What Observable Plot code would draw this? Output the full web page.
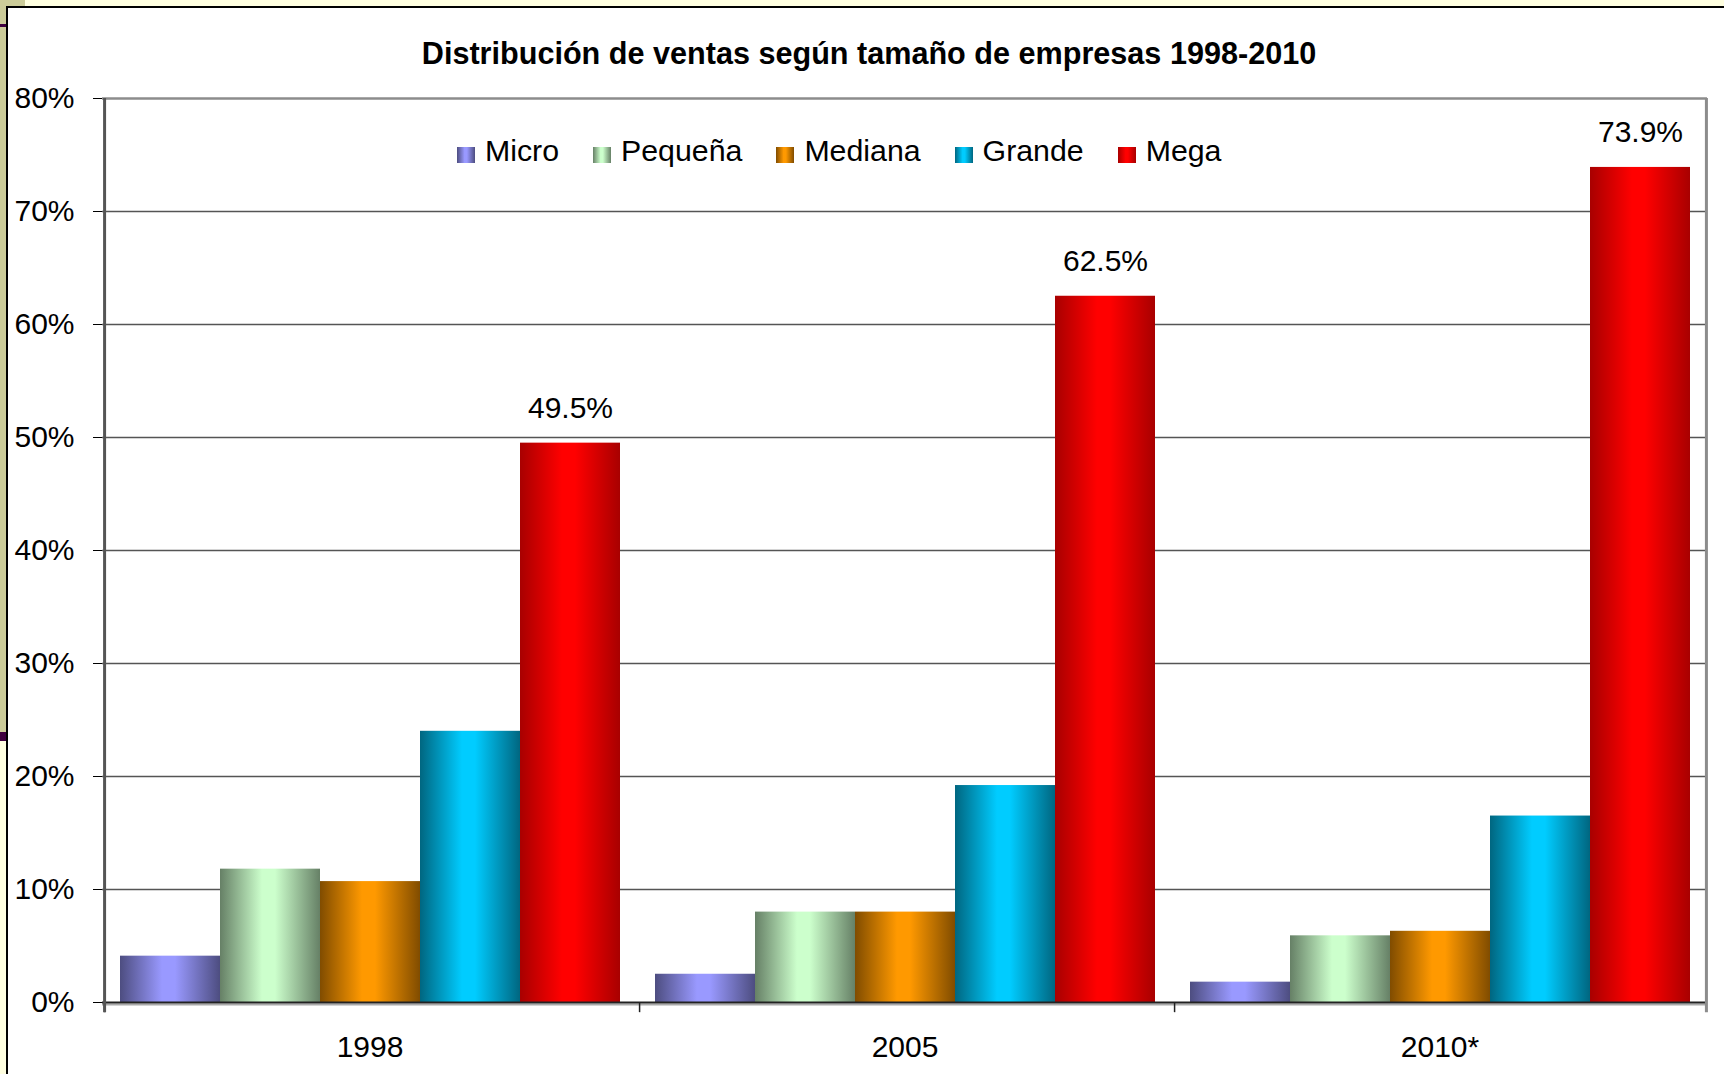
<!DOCTYPE html>
<html>
<head>
<meta charset="utf-8">
<script src="https://cdn.jsdelivr.net/npm/d3@7"></script>
<script src="https://cdn.jsdelivr.net/npm/@observablehq/plot@0.6"></script>
<style>
html, body { margin: 0; padding: 0; }
body { width: 1724px; height: 1074px; position: relative; overflow: hidden; background: #FFFFE0; font-family: "Liberation Sans", Arial, sans-serif; }
.khaki-left { position: absolute; left: 0; top: 0; width: 7px; height: 732px; background: #CCCC99; }
.khaki-top { position: absolute; left: 0; top: 0; width: 25px; height: 7px; background: #CCCC99; }
.purple1 { position: absolute; left: 0; top: 24px; width: 7px; height: 3px; background: #3F003F; }
.purple2 { position: absolute; left: 0; top: 732px; width: 7px; height: 9px; background: #3F003F; }
#frame { position: absolute; left: 6px; top: 6px; width: 1740px; height: 1090px; background: #fff; border-left: 2px solid #000; border-top: 2px solid #000; }
#title { position: absolute; left: 0; width: 1738px; top: 38.2px; text-align: center; font-weight: bold; font-size: 30.6px; line-height: 30px; color: #000; white-space: nowrap; }
#legend { position: absolute; left: 457px; top: 136.3px; font-size: 30.3px; line-height: 30px; white-space: nowrap; color: #000; }
#legend .item { display: inline-block; margin-right: 34px; }
#legend .item:last-child { margin-right: 0; }
#legend .sw { display: inline-block; width: 18px; height: 16px; margin-right: 10px; vertical-align: baseline; position: relative; top: 1.5px; }
#chart { position: absolute; left: 0; top: 0; }
</style>
</head>
<body>
<div class="khaki-left"></div>
<div class="khaki-top"></div>
<div class="purple1"></div>
<div class="purple2"></div>
<div id="frame"></div>
<div id="title">Distribución de ventas según tamaño de empresas 1998-2010</div>
<div id="legend"></div>
<div id="chart"></div>
<script>
// ---- data ----
const years = ["1998", "2005", "2010*"];
const series = ["Micro", "Pequeña", "Mediana", "Grande", "Mega"];
const micro   = [4.1, 2.5, 1.8];
const pequena = [11.8, 8.0, 5.9];
const mediana = [10.7, 8.0, 6.3];
const grande  = [24.0, 19.2, 16.5];
const mega    = [49.5, 62.5, 73.9];
const yTicks = [0, 10, 20, 30, 40, 50, 60, 70, 80];
const lightColors = ["#9999FF", "#CCFFCC", "#FF9900", "#00CCFF", "#FF0000"];
const darkColors  = ["#4D4D80", "#668066", "#804C00", "#006680", "#A80000"];

const valuesBySeries = [micro, pequena, mediana, grande, mega];
const table = [];
years.forEach((yr, j) => series.forEach((s, i) => table.push({year: yr, series: s, value: valuesBySeries[i][j]})));

// ---- layout ----
const W = 1724, H = 1074;
const mL = 102, mR = 17, mT = 98, mB = 72;
const padOuter = 0.154;
const groupW = (W - mL - mR) / years.length;
const step = groupW / (series.length + 2 * padOuter);
const edgeOffset = padOuter * step + step / 2;

const leftEdges = years.map(y => ({year: y, series: series[0]}));
const rightEdge = [{year: years[years.length - 1], series: series[series.length - 1]}];
const axisEdge = [{year: years[0], series: series[0]}];

const svg = Plot.plot({
  width: W,
  height: H,
  marginLeft: mL,
  marginRight: mR,
  marginTop: mT,
  marginBottom: mB,
  style: {background: "transparent", fontFamily: "'Liberation Sans', Arial, sans-serif", fontSize: "30px", color: "#000", overflow: "visible"},
  fx: {domain: years, padding: 0, label: null, tickSize: 0, tickPadding: 33, axis: "bottom"},
  x: {domain: series, paddingInner: 0, paddingOuter: padOuter, axis: null},
  y: {domain: [0, 80], ticks: yTicks, tickFormat: d => d + "%", tickSize: 9, tickPadding: 19, label: null},
  color: {domain: series, range: series.map((s, i) => `url(#grad${i})`)},
  marks: [
    Plot.ruleY(yTicks.filter(t => t > 0 && t < 80), {stroke: "#555", strokeWidth: 1.5}),
    Plot.ruleY([80], {stroke: "#8c8c8c", strokeWidth: 2.5}),
    Plot.barY(table, {fx: "year", x: "series", y: "value", fill: "series"}),
    Plot.ruleY([0], {stroke: "#aaa", strokeWidth: 2, dy: 2}),
    Plot.ruleY([0], {stroke: "#222", strokeWidth: 2}),
    Plot.ruleX(leftEdges, {fx: "year", x: "series", y1: 0, y2: -0.9, dx: -edgeOffset, stroke: "#222", strokeWidth: 1.5}),
    Plot.ruleX(axisEdge, {fx: "year", x: "series", y1: -0.9, y2: 80, dx: -edgeOffset, stroke: "#555", strokeWidth: 3}),
    Plot.ruleX(rightEdge, {fx: "year", x: "series", y1: -0.9, y2: 80, dx: edgeOffset, stroke: "#8c8c8c", strokeWidth: 3}),
    Plot.text(table.filter(d => d.series === "Mega"), {fx: "year", x: "series", y: "value", text: d => d.value.toFixed(1) + "%", dy: -35, fontSize: 30, fill: "#000"})
  ]
});

// gradients for the bars
const defs = d3.select(svg).insert("defs", ":first-child");
series.forEach((s, i) => {
  const g = defs.append("linearGradient").attr("id", "grad" + i)
    .attr("x1", "0").attr("x2", "1").attr("y1", "0").attr("y2", "0");
  [[0, darkColors[i]], [0.42, lightColors[i]], [0.55, lightColors[i]], [1, darkColors[i]]].forEach(([o, c]) => {
    g.append("stop").attr("offset", o).attr("stop-color", c);
  });
});
document.getElementById("chart").appendChild(svg);

// legend
const legend = d3.select("#legend");
series.forEach((s, i) => {
  const item = legend.append("span").attr("class", "item");
  item.append("span").attr("class", "sw")
    .style("background", `linear-gradient(to right, ${darkColors[i]} 0%, ${lightColors[i]} 42%, ${lightColors[i]} 55%, ${darkColors[i]} 100%)`);
  item.append("span").text(s);
});
</script>
</body>
</html>
